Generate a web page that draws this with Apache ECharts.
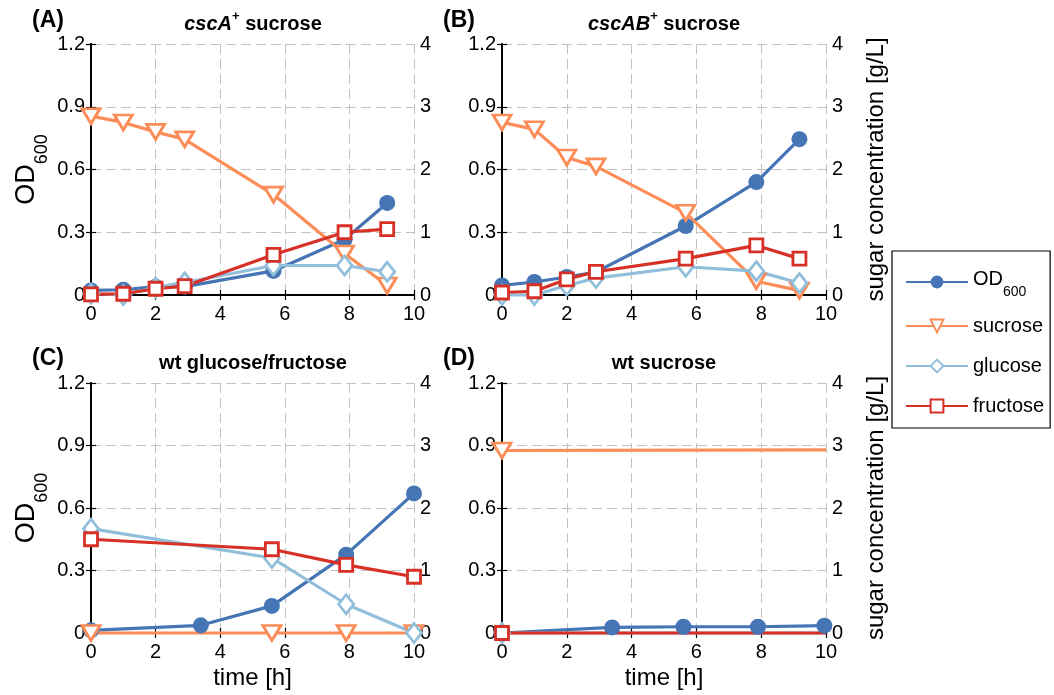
<!DOCTYPE html>
<html>
<head>
<meta charset="utf-8">
<script src="https://cdn.jsdelivr.net/npm/echarts@6/dist/echarts.min.js"></script>
<style>
html,body{margin:0;padding:0;background:#fff;}
#chart{width:1054px;height:695px;}
</style>
</head>
<body>
<div id="chart"></div>
<script>
// ---------------- data ----------------
const seriesNames = ['OD600', 'sucrose', 'glucose', 'fructose'];
const panelLabels = ['(A)', '(B)', '(C)', '(D)'];
const panelTitles = ['{i|cscA}{s|+}{n| sucrose}', '{i|cscAB}{s|+}{n| sucrose}', '{n|wt glucose/fructose}', '{n|wt sucrose}'];
const xTicks = [0, 2, 4, 6, 8, 10];
const odTicks = [0, 0.3, 0.6, 0.9, 1.2];
const sugarTicks = [0, 1, 2, 3, 4];

// Panel A (cscA+ sucrose)
const timeA = [0, 1, 2, 2.9, 5.65, 7.85, 9.17];
const odA = [0.022, 0.025, 0.04, 0.04, 0.115, 0.265, 0.44];
const sucA = [2.85, 2.75, 2.6, 2.48, 1.6, 0.66, 0.15];
const gluA = [0.02, 0.0, 0.12, 0.2, 0.47, 0.47, 0.37];
const fruA = [0.01, 0.02, 0.1, 0.14, 0.64, 1.0, 1.05];

// Panel B (cscAB+ sucrose)
const timeB = [0, 1, 2, 2.9, 5.67, 7.85, 9.18];
const odB = [0.046, 0.062, 0.086, 0.11, 0.33, 0.54, 0.745];
const sucB = [2.75, 2.64, 2.19, 2.05, 1.31, 0.22, 0.07];
const gluB = [0.0, 0.0, 0.15, 0.27, 0.45, 0.38, 0.19];
const fruB = [0.04, 0.06, 0.25, 0.37, 0.58, 0.79, 0.58];

// Panel C (wt glucose/fructose)
const timeCod = [0, 3.4, 5.6, 7.9, 10];
const odC = [0.013, 0.037, 0.13, 0.376, 0.67];
const timeCsug = [0, 5.6, 7.9, 10];
const sucC = [0, 0, 0, 0];
const gluC = [1.67, 1.2, 0.46, 0];
const fruC = [1.5, 1.34, 1.09, 0.9];

// Panel D (wt sucrose)
const timeDod = [0, 3.4, 5.6, 7.9, 9.95];
const odD = [0.0, 0.027, 0.03, 0.03, 0.035];
const timeDsug = [0, 10];
const sucD = [2.92, 2.93];
const gluD = [0, 0];
const fruD = [0, 0];

// ---------------- styling / layout ----------------
const FONT = "'Liberation Sans', Arial, Helvetica, sans-serif";
const COLORS = { 'OD600': '#4575b4', 'sucrose': '#fc8d59', 'glucose': '#91bfdb', 'fructose': '#d73027' };
const gridRects = [[91, 44, 323, 251], [502, 44, 324, 251], [91, 383, 323, 250], [502, 383, 324, 250]];
const labelPos = [[32, 9], [443, 9], [32, 347], [443, 347]];
const titlePos = [[253, 10], [664, 10], [253, 349], [664, 349]];

const panels = [
  { odT: timeA, od: odA, sugT: timeA, suc: sucA, glu: gluA, fru: fruA },
  { odT: timeB, od: odB, sugT: timeB, suc: sucB, glu: gluB, fru: fruB },
  { odT: timeCod, od: odC, sugT: timeCsug, suc: sucC, glu: gluC, fru: fruC },
  { odT: timeDod, od: odD, sugT: timeDsug, suc: sucD, glu: gluD, fru: fruD, firstOnly: true }
];

function pairs(xs, ys) { return xs.map((x, i) => [x, ys[i]]); }

const grid = [], xAxis = [], yAxis = [], series = [], title = [];
const axisLine = { show: true, lineStyle: { color: '#000', width: 1.8 } };
const axisLabelStyle = { color: '#000', fontSize: 20, fontFamily: FONT };
const gridLine = { show: true, lineStyle: { color: '#c2c2c2', type: [10, 5], width: 1 } };
const tick = { show: true, inside: true, length: 5, lineStyle: { color: '#000', width: 1.2 } };

panels.forEach((p, k) => {
  const r = gridRects[k];
  grid.push({ left: r[0], top: r[1], width: r[2], height: r[3], containLabel: false });
  title.push({ text: panelLabels[k], left: labelPos[k][0], top: labelPos[k][1], padding: 0,
    textStyle: { fontSize: 23, fontWeight: 'bold', fontFamily: FONT, color: '#000' } });
  title.push({ text: panelTitles[k], left: titlePos[k][0], top: titlePos[k][1], textAlign: 'center', padding: 0,
    textStyle: { fontSize: 20, fontWeight: 'bold', fontFamily: FONT, color: '#000',
      rich: {
        i: { fontSize: 20, fontWeight: 'bold', fontStyle: 'italic', fontFamily: FONT, color: '#000', lineHeight: 24, verticalAlign: 'bottom' },
        s: { fontSize: 13, fontWeight: 'bold', fontFamily: FONT, color: '#000', lineHeight: 24, verticalAlign: 'top' },
        n: { fontSize: 20, fontWeight: 'bold', fontFamily: FONT, color: '#000', lineHeight: 24, verticalAlign: 'bottom' }
      } } });
});

// bottom x axes (0..3)
panels.forEach((p, k) => {
  xAxis.push({
    type: 'value', gridIndex: k, min: xTicks[0], max: xTicks[xTicks.length - 1], interval: xTicks[1] - xTicks[0],
    position: 'bottom', axisLine: axisLine, axisTick: tick,
    axisLabel: Object.assign({ margin: 9 }, axisLabelStyle),
    splitLine: gridLine,
    name: k >= 2 ? 'time [h]' : '', nameLocation: 'middle', nameGap: 33,
    nameTextStyle: { fontSize: 24, fontFamily: FONT, color: '#000' }
  });
});
// top x axes (4..7) for box + ticks
panels.forEach((p, k) => {
  xAxis.push({
    type: 'value', gridIndex: k, min: xTicks[0], max: xTicks[xTicks.length - 1], interval: xTicks[1] - xTicks[0],
    position: 'top', axisLine: axisLine, axisTick: tick,
    axisLabel: { show: false }, splitLine: { show: false }
  });
});
// left OD axes (0..3)
panels.forEach((p, k) => {
  yAxis.push({
    type: 'value', gridIndex: k, position: 'left', min: odTicks[0], max: odTicks[odTicks.length - 1],
    interval: odTicks[1] - odTicks[0], axisLine: axisLine, axisTick: tick,
    axisLabel: Object.assign({ margin: 6, formatter: v => String(+v.toFixed(1)) }, axisLabelStyle),
    splitLine: gridLine,
    name: (k === 0 || k === 2) ? '{a|OD}{b|600}' : '', nameLocation: 'middle', nameRotate: 90, nameGap: 40,
    nameTextStyle: { fontFamily: FONT, color: '#000',
      rich: {
        a: { fontSize: 27, fontFamily: FONT, color: '#000', lineHeight: 38, verticalAlign: 'top' },
        b: { fontSize: 18, fontFamily: FONT, color: '#000', lineHeight: 38, verticalAlign: 'bottom' }
      } }
  });
});
// right sugar axes (4..7)
panels.forEach((p, k) => {
  yAxis.push({
    type: 'value', gridIndex: k, position: 'right', min: sugarTicks[0], max: sugarTicks[sugarTicks.length - 1],
    interval: sugarTicks[1] - sugarTicks[0], axisLine: axisLine, axisTick: tick,
    axisLabel: Object.assign({ margin: 6 }, axisLabelStyle),
    splitLine: { show: false },
    name: (k === 1 || k === 3) ? 'sugar concentration [g/L]' : '', nameLocation: 'middle', nameRotate: 90, nameGap: 38,
    nameTextStyle: { fontSize: 24, fontFamily: FONT, color: '#000' }
  });
});

function mkSeries(name, k, xs, ys, yIdx, sym) {
  const c = COLORS[name];
  return {
    name: name, type: 'line', xAxisIndex: k, yAxisIndex: yIdx,
    data: pairs(xs, ys), symbol: sym.symbol, symbolSize: sym.size, symbolRotate: sym.rotate || 0,
    showAllSymbol: true, clip: false, animation: false,
    lineStyle: { color: c, width: 3.2 },
    itemStyle: sym.filled ? { color: c, borderColor: c, borderWidth: 0 } : { color: '#fff', borderColor: c, borderWidth: 2.8, opacity: 1 },
    emphasis: { disabled: true }
  };
}
function firstOnly(p, s) { return p.firstOnly ? ((v, prm) => prm.dataIndex === 0 ? s : 'none') : s; }

panels.forEach((p, k) => {
  series.push(mkSeries('OD600', k, p.odT, p.od, k, { symbol: 'circle', size: 16, filled: true }));
  series.push(mkSeries('sucrose', k, p.sugT, p.suc, 4 + k, { symbol: firstOnly(p, 'triangle'), size: [18, 15], rotate: 180 }));
  series.push(mkSeries('glucose', k, p.sugT, p.glu, 4 + k, { symbol: firstOnly(p, 'diamond'), size: [15, 19] }));
  series.push(mkSeries('fructose', k, p.sugT, p.fru, 4 + k, { symbol: firstOnly(p, 'rect'), size: 13 }));
});

const option = {
  backgroundColor: '#fff',
  animation: false,
  textStyle: { fontFamily: FONT },
  title: title,
  grid: grid, xAxis: xAxis, yAxis: yAxis, series: series,
  legend: {
    data: seriesNames, orient: 'vertical', left: 892, top: 251,
    backgroundColor: '#fff', borderColor: '#000', borderWidth: 1.2, borderRadius: 0,
    padding: [14, 6, 9, 13], itemGap: 14, itemWidth: 62, itemHeight: 16,
    selectedMode: false,
    textStyle: { fontSize: 20, fontFamily: FONT, color: '#000', lineHeight: 26,
      rich: {
        a: { fontSize: 20, fontFamily: FONT, color: '#000', lineHeight: 34, verticalAlign: 'top', padding: [4, 0, 0, 0] },
        b: { fontSize: 14, fontFamily: FONT, color: '#000', lineHeight: 34, verticalAlign: 'bottom' }
      } },
    formatter: n => n === 'OD600' ? '{a|OD}{b|600}' : n
  }
};

const chart = echarts.init(document.getElementById('chart'), null, { renderer: 'canvas' });
chart.setOption(option);
</script>
</body>
</html>
